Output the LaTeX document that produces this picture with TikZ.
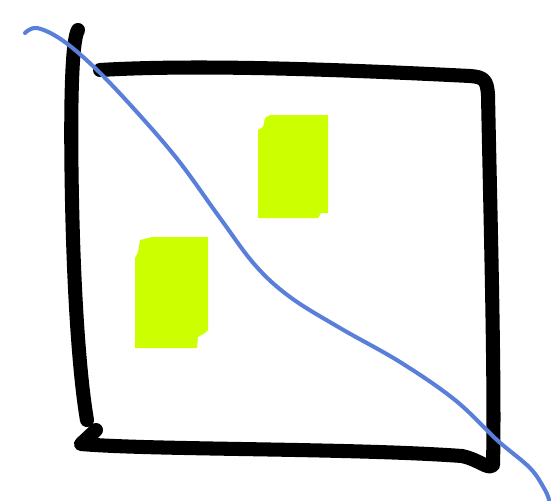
\documentclass[tikz,border=0pt]{standalone}
\usepackage{xcolor}
\usepackage{tikz}
\definecolor{penblue}{RGB}{90, 127, 218}
\definecolor{marklime}{RGB}{204, 255, 0}

\begin{document}
\begin{tikzpicture}[
    x=0.02cm, y=-0.02cm,
    frame/.style={draw=black, line width=8pt, line cap=round, line join=round},
    patch/.style={fill=marklime, draw=none},
    stroke/.style={draw=penblue, line width=2.3pt, line cap=round}
]
    \useasboundingbox (0,0) rectangle (553,500);

    \fill[patch] (270,115) -- (328,115) -- (328,213) -- (321,213) -- (318,218) -- (258,218) -- (258,130) -- (263,127) -- (265,118) -- cycle;
    \fill[patch] (152,237) -- (208,237) -- (208,330) -- (205,333) -- (198,337) -- (197,348) -- (135,348) -- (135,258) -- (138,252) -- (140,240) -- cycle;

    \draw[frame] (78,30) .. controls (72,40) and (70,100) .. (72,200) .. controls (74,300) and (80,380) .. (87,420);
    \draw[frame] (96,430) -- (81,444) .. controls (150,450) and (350,448) .. (462,456) .. controls (480,460) and (488,470) .. (493,465) .. controls (495,380) and (490,200) .. (488,95) .. controls (487,80) and (484,77) .. (470,76) .. controls (350,70) and (200,64) .. (100,70);

    \draw[stroke] plot[smooth, tension=0.6] coordinates {(25,33) (37,28) (62,40) (95,68) (135,110) (178,160) (220,218) (255,265) (290,297) (340,328) (400,362) (455,400) (497,440) (530,468) (545,490) (549,500)};
\end{tikzpicture}
\end{document}
